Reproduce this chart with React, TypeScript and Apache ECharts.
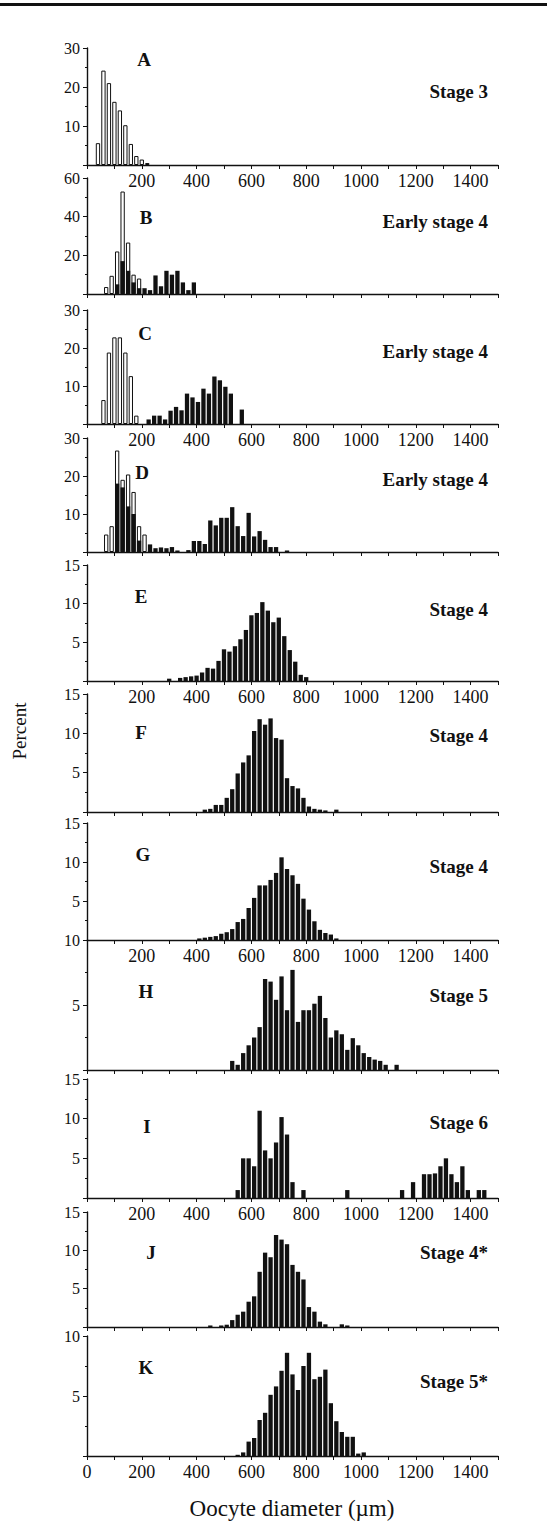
import React, { useEffect, useRef } from "react";
import * as echarts from "echarts";

const FONT = "'Liberation Serif', 'Times New Roman', serif";
const INK = "#111";

// ---- labels ----
const panelLetters = ["A", "B", "C", "D", "E", "F", "G", "H", "I", "J", "K"];
const stageLabels = [
  "Stage 3", "Early stage 4", "Early stage 4", "Early stage 4", "Stage 4",
  "Stage 4", "Stage 4", "Stage 5", "Stage 6", "Stage 4*", "Stage 5*",
];
const yMaxes = [30, 60, 30, 30, 15, 15, 15, 10, 15, 15, 10];
const yIntervals = [10, 20, 10, 10, 5, 5, 5, 5, 5, 5, 5];
const xLabelTicks = [200, 400, 600, 800, 1000, 1200, 1400];
const xTitle = "Oocyte diameter (µm)";
const yTitle = "Percent";

// ---- data: bin centre (µm) and percent ----
const aOpenX = [40, 60, 80, 100, 120, 140, 160, 180, 200, 220];
const aOpenY = [5.6, 24.2, 21, 16.2, 14, 10.2, 5.4, 2.3, 1.4, 0.5];

const bOpenX = [70, 90, 110, 130, 150, 170, 190];
const bOpenY = [3.6, 9.4, 22, 53, 26.6, 10, 8];
const bFillX = [110, 130, 150, 170, 190, 210, 230, 250, 270, 290, 310, 330, 350, 370, 390];
const bFillY = [5, 17, 12, 6, 3, 3, 2, 9.6, 4, 12, 10, 12, 6, 2, 6];

const cOpenX = [60, 80, 100, 120, 140, 160, 180];
const cOpenY = [6.3, 18.8, 22.8, 22.8, 18.8, 12.6, 2.2];
const cFillX = [225, 245, 265, 285, 305, 325, 345, 365, 385, 405, 425, 445, 465, 485, 505, 525, 565];
const cFillY = [1.2, 2.2, 2.2, 1.2, 3.5, 4.5, 3.6, 8, 7, 5.8, 9.3, 8, 12.5, 11.5, 9.8, 8, 3.8];

const dOpenX = [70, 90, 110, 130, 150, 170, 190, 210];
const dOpenY = [4.6, 6.8, 26.7, 19, 20.4, 15.8, 6.8, 4.6];
const dFillX = [110, 130, 150, 170, 190, 230, 250, 270, 290, 310, 330, 370, 390, 410, 430, 450, 470, 490, 510, 530, 550, 570, 590, 610, 630, 650, 670, 690, 730];
const dFillY = [18, 17, 12, 10, 3, 2, 1, 1.2, 1, 1.3, 0.4, 0.5, 2.9, 2.9, 2.1, 8.3, 7, 9, 9, 11.8, 6.8, 4.2, 10.3, 4.1, 5.5, 3.2, 1.3, 1.3, 0.4];

const eFillX = [300, 340, 360, 380, 400, 420, 440, 460, 480, 500, 520, 540, 560, 580, 600, 620, 640, 660, 680, 700, 720, 740, 760, 780, 800];
const eFillY = [0.3, 0.4, 0.5, 0.6, 0.7, 1.1, 1.7, 1.6, 2.6, 4.1, 3.8, 4.5, 5.4, 6.6, 8.5, 8.8, 10.2, 9.1, 7.6, 8.2, 5.8, 4.0, 2.5, 0.8, 0.5];

const fFillX = [430, 450, 470, 490, 510, 530, 550, 570, 590, 610, 630, 650, 670, 690, 710, 730, 750, 770, 790, 810, 830, 850, 870, 910];
const fFillY = [0.3, 0.4, 0.9, 0.9, 1.8, 2.9, 4.9, 6.3, 7.2, 10.3, 11.8, 11.1, 11.9, 9.4, 9.2, 4.3, 3.3, 3.0, 1.8, 0.7, 0.4, 0.3, 0.2, 0.3];

const gFillX = [410, 430, 450, 470, 490, 510, 530, 550, 570, 590, 610, 630, 650, 670, 690, 710, 730, 750, 770, 790, 810, 830, 850, 870, 890, 910];
const gFillY = [0.2, 0.3, 0.4, 0.5, 0.8, 1.0, 1.4, 2.3, 2.7, 4.1, 5.4, 7.0, 7.0, 7.7, 8.6, 10.6, 9.1, 8.3, 7.2, 5.3, 3.9, 2.4, 1.3, 0.9, 0.7, 0.2];

const hFillX = [530, 550, 570, 590, 610, 630, 650, 670, 690, 710, 730, 750, 770, 790, 810, 830, 850, 870, 890, 910, 930, 950, 970, 990, 1010, 1030, 1050, 1070, 1090, 1130];
const hFillY = [0.7, 0.4, 1.3, 1.9, 2.5, 3.3, 7.0, 6.8, 5.4, 7.2, 4.6, 7.7, 3.7, 4.6, 4.6, 5.1, 5.7, 4.0, 2.5, 3.05, 2.75, 1.55, 2.45, 1.9, 1.3, 1.0, 0.8, 0.7, 0.4, 0.4];

const iFillX = [550, 570, 590, 610, 630, 650, 670, 690, 710, 730, 750, 790, 950, 1150, 1190, 1230, 1250, 1270, 1290, 1310, 1330, 1350, 1370, 1390, 1430, 1450];
const iFillY = [1, 5, 5, 4, 11, 6, 5, 7, 10.2, 8, 2, 1, 1, 1, 2, 3, 3, 3.1, 4, 5, 3, 2, 4, 1, 1, 1];

const jFillX = [450, 490, 510, 530, 550, 570, 590, 610, 630, 650, 670, 690, 710, 730, 750, 770, 790, 810, 830, 850, 870, 930, 950];
const jFillY = [0.2, 0.2, 0.3, 0.9, 1.6, 2.0, 3.3, 4.0, 7.2, 9.7, 9.1, 12.0, 11.4, 10.8, 8.1, 7.2, 6.2, 2.6, 2.0, 0.7, 0.35, 0.35, 0.2];

const kFillX = [550, 570, 590, 610, 630, 650, 670, 690, 710, 730, 750, 770, 790, 810, 830, 850, 870, 890, 910, 930, 950, 970, 990, 1010];
const kFillY = [0.1, 0.3, 1.2, 1.5, 3.0, 3.6, 5.1, 5.8, 7.1, 8.6, 6.8, 5.5, 7.5, 8.6, 6.4, 6.6, 7.2, 4.4, 2.9, 2.0, 1.6, 1.6, 0.2, 0.3];

// ---- layout (pixels) ----
const panelTop = [48, 178, 310, 438, 565, 694, 823, 940, 1079, 1212, 1336];
const panelBase = [165, 294, 424, 552, 681, 812, 940, 1070, 1198, 1327, 1456];
const showXLabels = [true, false, true, false, true, false, true, false, true, false, true];
const letterPos = [[144, 59], [146, 217], [145, 333], [142, 472], [141, 596], [141, 732], [143, 854], [146, 991], [147, 1126], [151, 1252], [146, 1367]];
const stageY = [91, 221, 351, 479, 609, 735, 866, 995, 1122, 1252, 1381];

const zip = (xs: number[], ys: number[]) => xs.map((x, i) => [x, ys[i]]);

const panelSeries: { open: number[][] | null; fill: number[][] | null }[] = [
  { open: zip(aOpenX, aOpenY), fill: null },
  { open: zip(bOpenX, bOpenY), fill: zip(bFillX, bFillY) },
  { open: zip(cOpenX, cOpenY), fill: zip(cFillX, cFillY) },
  { open: zip(dOpenX, dOpenY), fill: zip(dFillX, dFillY) },
  { open: null, fill: zip(eFillX, eFillY) },
  { open: null, fill: zip(fFillX, fFillY) },
  { open: null, fill: zip(gFillX, gFillY) },
  { open: null, fill: zip(hFillX, hFillY) },
  { open: null, fill: zip(iFillX, iFillY) },
  { open: null, fill: zip(jFillX, jFillY) },
  { open: null, fill: zip(kFillX, kFillY) },
];

function buildOption() {
  const grid: any[] = [];
  const xAxis: any[] = [];
  const yAxis: any[] = [];
  const series: any[] = [];
  const graphic: any[] = [];

  panelLetters.forEach((_, i) => {
    grid.push({ left: 87, right: 49, top: panelTop[i], height: panelBase[i] - panelTop[i] });
    xAxis.push({
      gridIndex: i,
      type: "value",
      min: 0,
      max: 1500,
      interval: 100,
      axisLine: { show: true, lineStyle: { color: INK, width: 1.4 } },
      axisTick: { show: true, length: 4, lineStyle: { color: INK, width: 1 } },
      axisLabel: {
        show: showXLabels[i],
        fontFamily: FONT,
        fontSize: 18,
        color: INK,
        margin: 7,
        formatter: (v: number) =>
          xLabelTicks.includes(v) || (v === 0 && i === 10) ? String(v) : "",
      },
      splitLine: { show: false },
    });
    yAxis.push({
      gridIndex: i,
      type: "value",
      min: 0,
      max: yMaxes[i],
      interval: yIntervals[i],
      axisLine: { show: true, lineStyle: { color: INK, width: 1.4 } },
      axisTick: { show: true, length: 4, lineStyle: { color: INK, width: 1 } },
      minorTick: { show: true, splitNumber: 2, length: 2, lineStyle: { color: INK, width: 1 } },
      axisLabel: {
        fontFamily: FONT,
        fontSize: 16,
        color: INK,
        margin: 7,
        formatter: (v: number) => (v === 0 ? "" : String(v)),
      },
      splitLine: { show: false },
    });
    const ps = panelSeries[i];
    if (ps.open) {
      series.push({
        type: "bar",
        xAxisIndex: i,
        yAxisIndex: i,
        data: ps.open,
        barWidth: 4.3,
        barGap: "-100%",
        itemStyle: { color: "#fff", borderColor: INK, borderWidth: 1 },
      });
    }
    if (ps.fill) {
      series.push({
        type: "bar",
        xAxisIndex: i,
        yAxisIndex: i,
        data: ps.fill,
        barWidth: 4.3,
        barGap: "-100%",
        itemStyle: { color: INK },
      });
    }
    graphic.push({
      type: "text",
      x: letterPos[i][0],
      y: letterPos[i][1],
      style: {
        text: panelLetters[i],
        font: `bold 19px ${FONT}`,
        fill: INK,
        align: "center",
        verticalAlign: "middle",
        textAlign: "center",
        textVerticalAlign: "middle",
      },
    });
    graphic.push({
      type: "text",
      x: 488,
      y: stageY[i],
      style: {
        text: stageLabels[i],
        font: `bold 19px ${FONT}`,
        fill: INK,
        align: "right",
        verticalAlign: "middle",
        textAlign: "right",
        textVerticalAlign: "middle",
      },
    });
  });

  graphic.push({
    type: "rect",
    shape: { x: 0, y: 3, width: 547, height: 3 },
    style: { fill: INK },
  });
  graphic.push({
    type: "text",
    x: 292,
    y: 1508,
    style: {
      text: xTitle,
      font: `23px ${FONT}`,
      fill: INK,
      align: "center",
      verticalAlign: "middle",
      textAlign: "center",
      textVerticalAlign: "middle",
    },
  });
  graphic.push({
    type: "text",
    x: 19,
    y: 731,
    rotation: Math.PI / 2,
    style: {
      text: yTitle,
      font: `19px ${FONT}`,
      fill: INK,
      align: "center",
      verticalAlign: "middle",
      textAlign: "center",
      textVerticalAlign: "middle",
    },
  });

  return {
    animation: false,
    backgroundColor: "#fff",
    grid,
    xAxis,
    yAxis,
    series,
    graphic,
  };
}

export default function App() {
  const ref = useRef<HTMLDivElement>(null);
  useEffect(() => {
    document.body.style.margin = "0";
    const chart = echarts.init(ref.current!, null, { renderer: "svg" });
    chart.setOption(buildOption() as any);
    return () => chart.dispose();
  }, []);
  return <div ref={ref} style={{ width: 547, height: 1529 }} />;
}
